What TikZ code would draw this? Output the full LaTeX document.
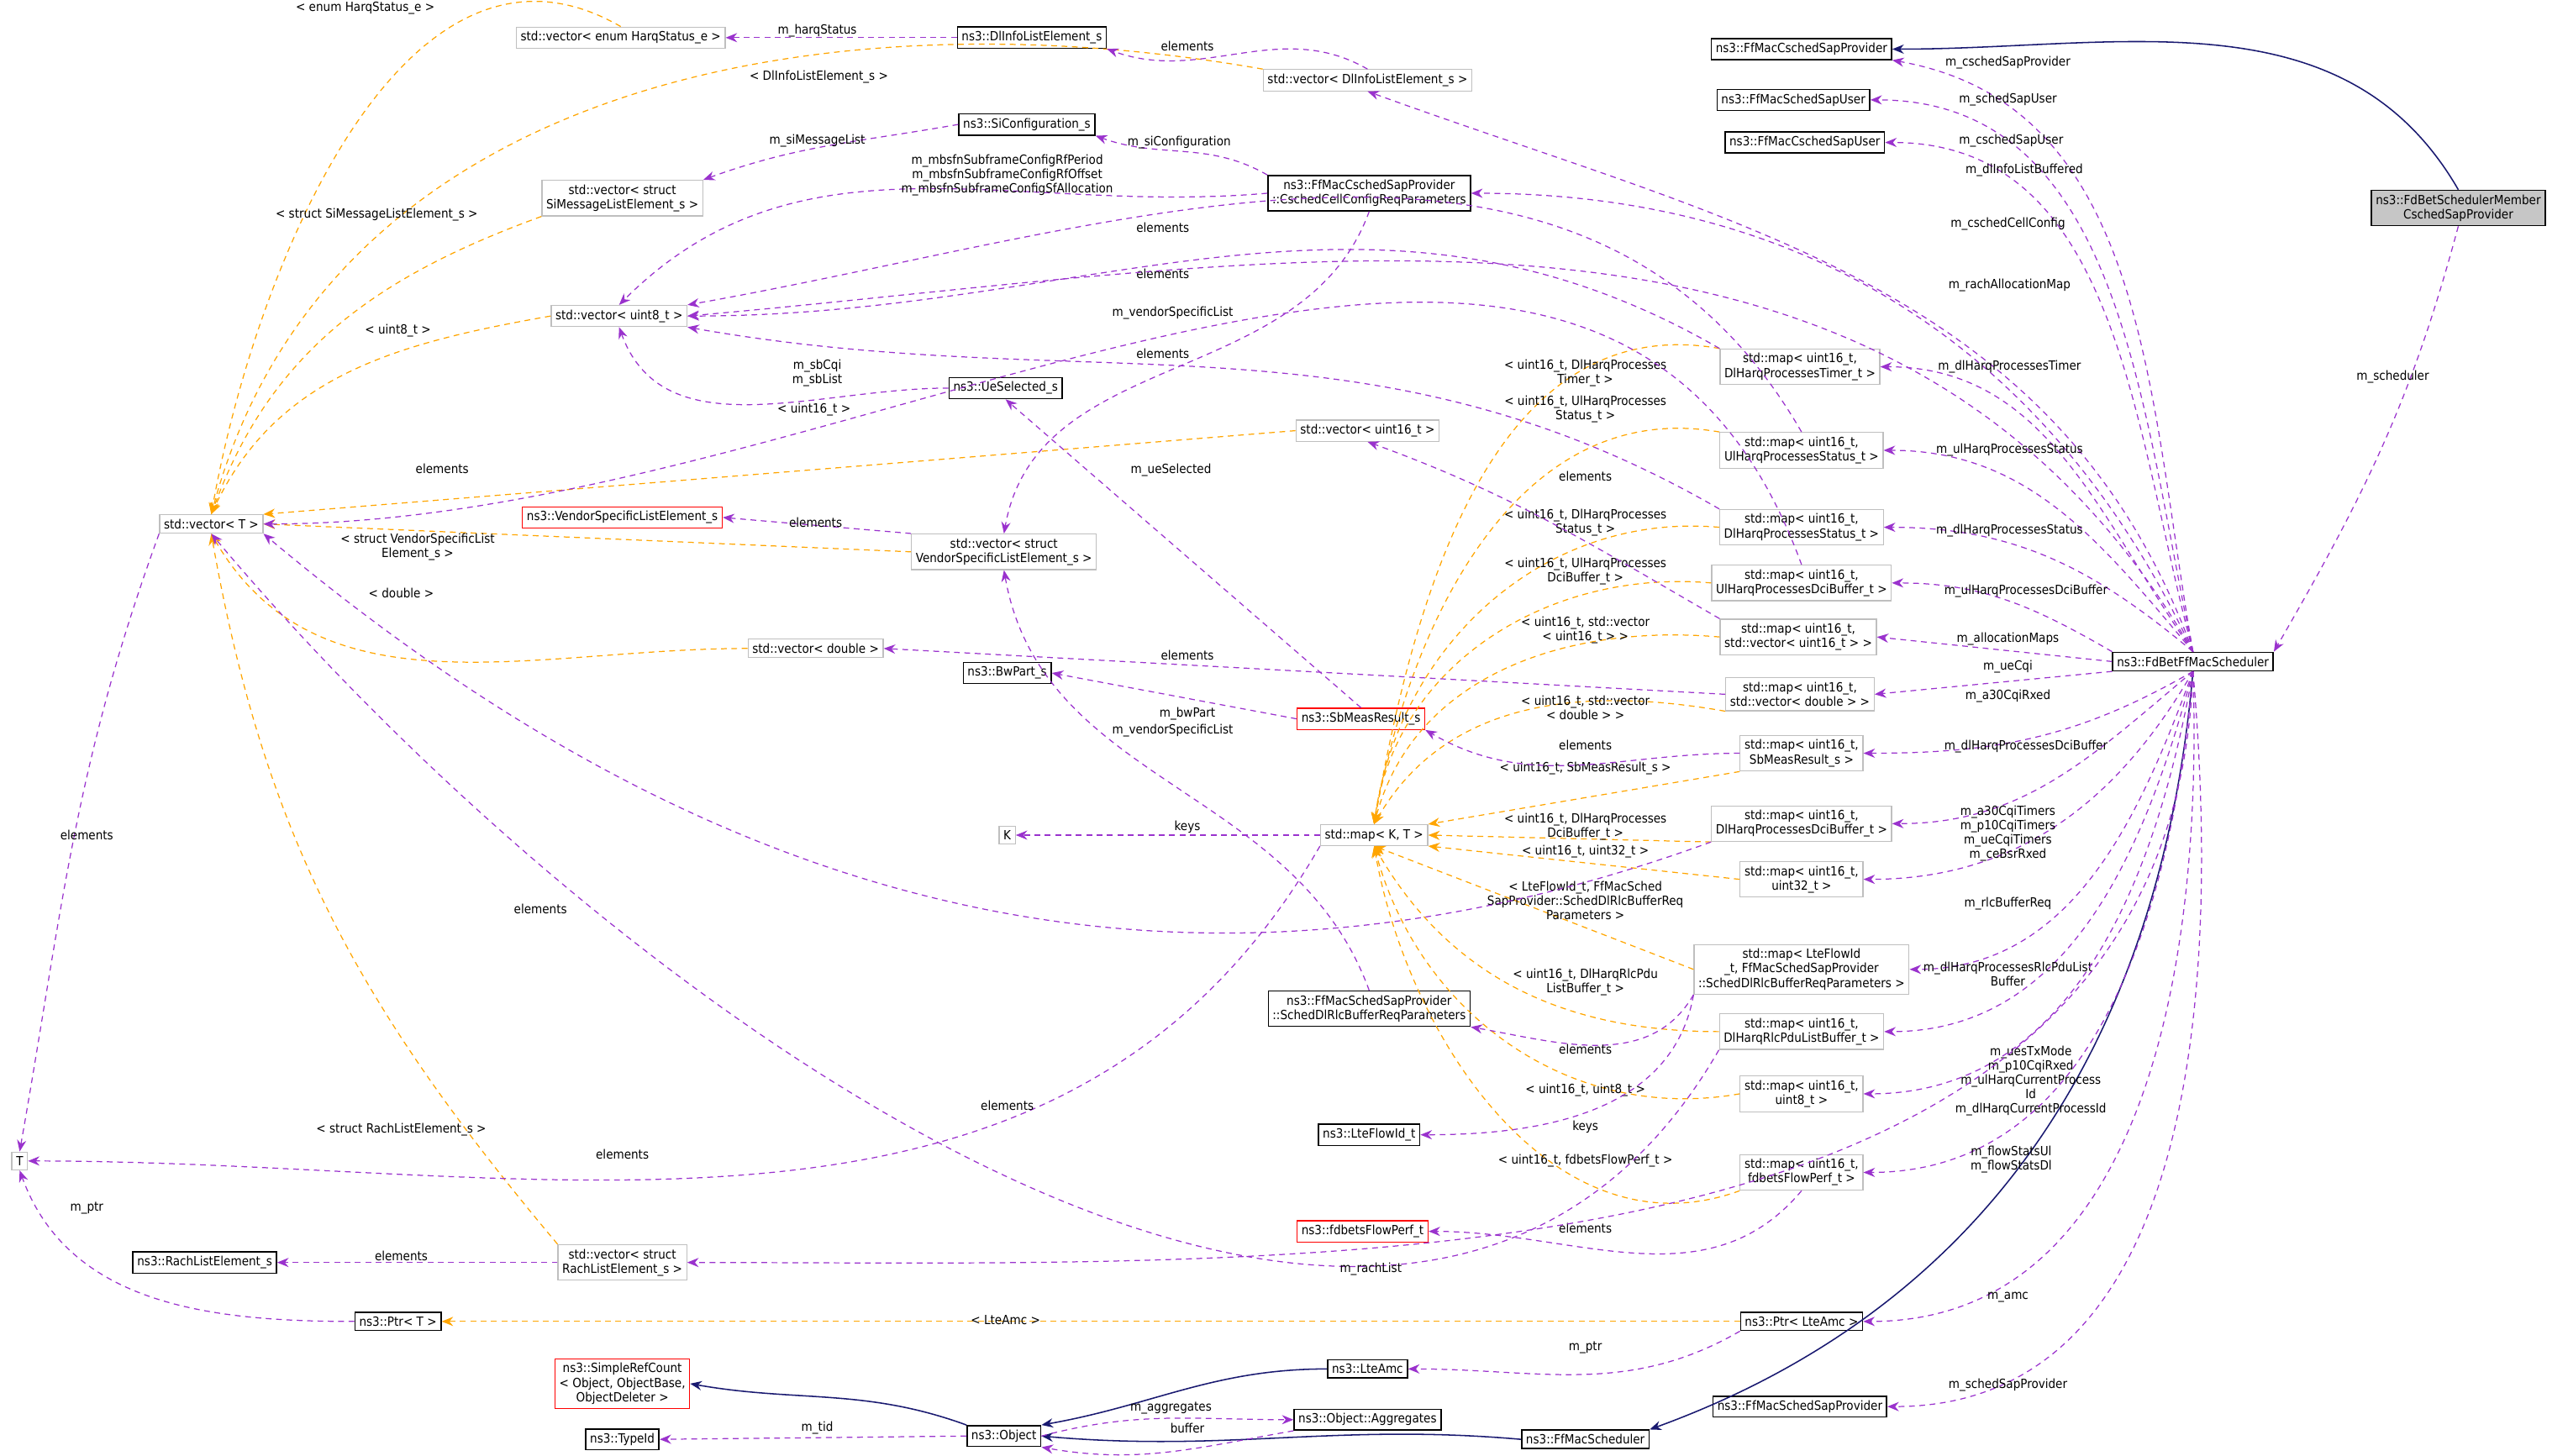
\documentclass[tikz,border=0pt]{standalone}
\usepackage{fontspec}
\setmainfont{DejaVu Sans Condensed}
\usetikzlibrary{arrows.meta}
\definecolor{pur}{HTML}{9A32CD}
\definecolor{org}{HTML}{FFA500}
\definecolor{nav}{HTML}{191970}
\definecolor{gbd}{HTML}{BFBFBF}
\definecolor{rbd}{HTML}{FF0000}
\tikzset{
 bx/.style={draw=gbd,fill=white,line width=0.36pt,align=center,inner sep=1.5pt,font=\fontsize{4.4}{5}\selectfont},
 bk/.style={bx,draw=black,line width=0.45pt},
 rd/.style={bx,draw=rbd},
 gf/.style={bk,fill=gray!45},
 lb/.style={align=center,font=\fontsize{4.4}{5}\selectfont,inner sep=0pt},
 tip/.style={-{Stealth[length=4pt,width=3.2pt]}},
 pe/.style={tip,draw=pur,line width=0.36pt,dash pattern=on 2pt off 1.6pt},
 oe/.style={tip,draw=org,line width=0.36pt,dash pattern=on 2pt off 1.6pt},
 ne/.style={tip,draw=nav,line width=0.45pt}
}
\begin{document}
\begin{tikzpicture}[x=0.02cm,y=-0.02cm]
\useasboundingbox (0,0) rectangle (1568,889);
% nodes
\node[bx] (harq) at (379,23) {std::vector< enum HarqStatus\_e >};
\node[bk] (dlinfo) at (630,23) {ns3::DlInfoListElement\_s};
\node[bk] (cprov) at (1100,30) {ns3::FfMacCschedSapProvider};
\node[bk] (suser) at (1095,61) {ns3::FfMacSchedSapUser};
\node[bk] (cuser) at (1102,87) {ns3::FfMacCschedSapUser};
\node[gf] (member) at (1501,127) {ns3::FdBetSchedulerMember\\CschedSapProvider};
\node[bx] (vdlinfo) at (835,49) {std::vector< DlInfoListElement\_s >};
\node[bk] (sicfg) at (627,76) {ns3::SiConfiguration\_s};
\node[bx] (vsimsg) at (380,121) {std::vector< struct\\SiMessageListElement\_s >};
\node[bk] (ccfg) at (836,118) {ns3::FfMacCschedSapProvider\\::CschedCellConfigReqParameters};
\node[bx] (v8) at (378,193) {std::vector< uint8\_t >};
\node[bk] (uesel) at (614,237) {ns3::UeSelected\_s};
\node[bx] (mtimer) at (1099,224) {std::map< uint16\_t,\\DlHarqProcessesTimer\_t >};
\node[bx] (v16) at (835,263) {std::vector< uint16\_t >};
\node[bx] (mulst) at (1100,275) {std::map< uint16\_t,\\UlHarqProcessesStatus\_t >};
\node[bx] (vt) at (129,320) {std::vector< T >};
\node[rd] (vendor) at (380,316) {ns3::VendorSpecificListElement\_s};
\node[bx] (vvendor) at (613,337) {std::vector< struct\\VendorSpecificListElement\_s >};
\node[bx] (mdlst) at (1100,322) {std::map< uint16\_t,\\DlHarqProcessesStatus\_t >};
\node[bx] (muldci) at (1100,356) {std::map< uint16\_t,\\UlHarqProcessesDciBuffer\_t >};
\node[bx] (mv16) at (1098,389) {std::map< uint16\_t,\\std::vector< uint16\_t > >};
\node[bk] (sch) at (1339,404) {ns3::FdBetFfMacScheduler};
\node[bx] (vdbl) at (498,396) {std::vector< double >};
\node[bx] (mvdbl) at (1099,424) {std::map< uint16\_t,\\std::vector< double > >};
\node[bk] (bw) at (615,411) {ns3::BwPart\_s};
\node[rd] (sb) at (831,439) {ns3::SbMeasResult\_s};
\node[bx] (msb) at (1100,460) {std::map< uint16\_t,\\SbMeasResult\_s >};
\node[bx] (K) at (615,510) {K};
\node[bx] (mkt) at (839,510) {std::map< K, T >};
\node[bx] (mdldci) at (1100,503) {std::map< uint16\_t,\\DlHarqProcessesDciBuffer\_t >};
\node[bx] (m32) at (1100,537) {std::map< uint16\_t,\\uint32\_t >};
\node[bx] (mflow) at (1100,592) {std::map< LteFlowId\\\_t, FfMacSchedSapProvider\\::SchedDlRlcBufferReqParameters >};
\node[bk] (rlcreq) at (836,616) {ns3::FfMacSchedSapProvider\\::SchedDlRlcBufferReqParameters};
\node[bx] (mrlc) at (1100,630) {std::map< uint16\_t,\\DlHarqRlcPduListBuffer\_t >};
\node[bx] (m8) at (1100,668) {std::map< uint16\_t,\\uint8\_t >};
\node[bk] (flowid) at (836,693) {ns3::LteFlowId\_t};
\node[bx] (T) at (12,709) {T};
\node[bx] (mfdb) at (1100,716) {std::map< uint16\_t,\\fdbetsFlowPerf\_t >};
\node[rd] (fdb) at (832,752) {ns3::fdbetsFlowPerf\_t};
\node[bk] (rach) at (125,771) {ns3::RachListElement\_s};
\node[bx] (vrach) at (380,771) {std::vector< struct\\RachListElement\_s >};
\node[bk] (ptrt) at (243,807) {ns3::Ptr< T >};
\node[bk] (ptramc) at (1100,807) {ns3::Ptr< LteAmc >};
\node[rd] (src) at (380,845) {ns3::SimpleRefCount\\< Object, ObjectBase,\\ObjectDeleter >};
\node[bk] (amc) at (835,836) {ns3::LteAmc};
\node[bk] (obj) at (613,877) {ns3::Object};
\node[bk] (agg) at (835,867) {ns3::Object::Aggregates};
\node[bk] (tid) at (380,879) {ns3::TypeId};
\node[bk] (ffs) at (968,879) {ns3::FfMacScheduler};
\node[bk] (sprov) at (1099,859) {ns3::FfMacSchedSapProvider};
% inheritance
\draw[ne] (member.north) to[out=120,in=0] (cprov.east);
\draw[ne] (sch.south) to[out=-95,in=20] (ffs.north east);
\draw[ne] (ffs.west) to[out=175,in=-5] (obj.east);
\draw[ne] (amc.west) to[out=180,in=10] (obj.north east);
\draw[ne] (obj.north west) to[out=160,in=-10] (src.east);
% orange templates
\draw[oe] (harq.north) to[out=150,in=80] (vt.north) node[lb] at (223,5) {< enum HarqStatus\_e >};
\draw[oe] (vdlinfo.north west) to[out=170,in=75] (vt.north) node[lb] at (500,47) {< DlInfoListElement\_s >};
\draw[oe] (vsimsg.south west) to[out=200,in=70] (vt.north) node[lb] at (230,131) {< struct SiMessageListElement\_s >};
\draw[oe] (v8.west) to[out=190,in=65] (vt.north) node[lb] at (243,202) {< uint8\_t >};
\draw[oe] (v16.west) -- (vt.north east) node[lb] at (497,250) {< uint16\_t >};
\draw[oe] (vvendor.west) -- (vt.east) node[lb] at (255,334) {< struct VendorSpecificList\\Element\_s >};
\draw[oe] (vdbl.west) to[out=180,in=-60] (vt.south) node[lb] at (245,362) {< double >};
\draw[oe] (vrach.north west) to[out=130,in=-80] (vt.south) node[lb] at (245,690) {< struct RachListElement\_s >};
\draw[oe] (ptramc.west) -- (ptrt.east) node[lb] at (614,806) {< LteAmc >};
\draw[oe] (mtimer.north west) to[out=170,in=80] (mkt.north) node[lb] at (968,228) {< uint16\_t, DlHarqProcesses\\Timer\_t >};
\draw[oe] (mulst.north west) to[out=170,in=80] (mkt.north) node[lb] at (968,250) {< uint16\_t, UlHarqProcesses\\Status\_t >};
\draw[oe] (mdlst.west) to[out=175,in=82] (mkt.north) node[lb] at (968,319) {< uint16\_t, DlHarqProcesses\\Status\_t >};
\draw[oe] (muldci.west) to[out=175,in=82] (mkt.north) node[lb] at (968,349) {< uint16\_t, UlHarqProcesses\\DciBuffer\_t >};
\draw[oe] (mv16.west) to[out=175,in=75] (mkt.north) node[lb] at (968,385) {< uint16\_t, std::vector\\< uint16\_t > >};
\draw[oe] (mvdbl.south west) to[out=170,in=60] (mkt.north) node[lb] at (968,432) {< uint16\_t, std::vector\\< double > >};
\draw[oe] (msb.south west) -- (mkt.north east) node[lb] at (968,469) {< uint16\_t, SbMeasResult\_s >};
\draw[oe] (mdldci.south west) -- (mkt.east) node[lb] at (968,505) {< uint16\_t, DlHarqProcesses\\DciBuffer\_t >};
\draw[oe] (m32.west) -- (mkt.south east) node[lb] at (968,520) {< uint16\_t, uint32\_t >};
\draw[oe] (mflow.west) -- (mkt.south) node[lb] at (968,550) {< LteFlowId\_t, FfMacSched\\SapProvider::SchedDlRlcBufferReq\\Parameters >};
\draw[oe] (mrlc.west) to[out=180,in=-60] (mkt.south) node[lb] at (968,600) {< uint16\_t, DlHarqRlcPdu\\ListBuffer\_t >};
\draw[oe] (m8.west) to[out=190,in=-75] (mkt.south) node[lb] at (968,666) {< uint16\_t, uint8\_t >};
\draw[oe] (mfdb.south west) to[out=200,in=-80] (mkt.south) node[lb] at (968,709) {< uint16\_t, fdbetsFlowPerf\_t >};
% purple members
\draw[pe] (dlinfo.west) -- (harq.east) node[lb] at (499,19) {m\_harqStatus};
\draw[pe] (vdlinfo.north) to[out=150,in=-20] (dlinfo.south east) node[lb] at (725,28) {elements};
\draw[pe] (sicfg.west) to[out=190,in=20] (vsimsg.north east) node[lb] at (499,86) {m\_siMessageList};
\draw[pe] (ccfg.north west) to[out=150,in=-20] (sicfg.south east) node[lb] at (720,87) {m\_siConfiguration};
\draw[pe] (ccfg.west) to[out=185,in=45] (v8.north) node[lb] at (615,107) {m\_mbsfnSubframeConfigRfPeriod\\m\_mbsfnSubframeConfigRfOffset\\m\_mbsfnSubframeConfigSfAllocation};
\draw[pe] (ccfg.south) to[out=-110,in=80] (vvendor.north) node[lb] at (716,191) {m\_vendorSpecificList};
\draw[pe] (mtimer.north west) to[out=150,in=0] (v8.east) node[lb] at (710,139) {elements};
\draw[pe] (mulst.north) to[out=120,in=10] (v8.north east) node[lb] at (710,167) {elements};
\draw[pe] (mdlst.north west) to[out=150,in=-10] (v8.south east) node[lb] at (710,216) {elements};
\draw[pe] (uesel.west) to[out=180,in=-70] (v8.south) node[lb] at (499,228) {m\_sbCqi\\m\_sbList};
\draw[pe] (mv16.north west) to[out=150,in=-20] (v16.south) node[lb] at (968,291) {elements};
\draw[pe] (muldci.north) to[out=110,in=0] (vt.east) node[lb] at (270,286) {elements};
\draw[pe] (vvendor.north west) -- (vendor.east) node[lb] at (498,319) {elements};
\draw[pe] (mvdbl.west) -- (vdbl.east) node[lb] at (725,400) {elements};
\draw[pe] (sb.west) -- (bw.east) node[lb] at (725,436) {m\_bwPart};
\draw[pe] (sb.north) -- (uesel.south) node[lb] at (715,287) {m\_ueSelected};
\draw[pe] (msb.west) to[out=180,in=-30] (sb.south east) node[lb] at (968,455) {elements};
\draw[pe] (mkt.west) -- (K.east) node[lb] at (725,505) {keys};
\draw[pe] (mkt.south west) to[out=-120,in=0] (T.east) node[lb] at (380,705) {elements};
\draw[pe] (vt.south west) to[out=-110,in=80] (T.north) node[lb] at (53,510) {elements};
\draw[pe] (mdldci.south west) to[out=200,in=-40] (vt.south east) node[lb] at (330,555) {elements};
\draw[pe] (rlcreq.north) to[out=110,in=-80] (vvendor.south) node[lb] at (716,446) {m\_vendorSpecificList};
\draw[pe] (mflow.south west) to[out=-120,in=-10] (rlcreq.south east) node[lb] at (968,641) {elements};
\draw[pe] (mflow.south west) to[out=-100,in=0] (flowid.east) node[lb] at (968,688) {keys};
\draw[pe] (mrlc.south west) to[out=-120,in=-50] (vt.south) node[lb] at (615,675) {elements};
\draw[pe] (mfdb.south) to[out=-130,in=0] (fdb.east) node[lb] at (968,750) {elements};
\draw[pe] (vrach.west) -- (rach.east) node[lb] at (245,767) {elements};
\draw[pe] (ptrt.west) to[out=180,in=-70] (T.south) node[lb] at (53,738) {m\_ptr};
\draw[pe] (ptramc.south west) to[out=-150,in=0] (amc.east) node[lb] at (968,823) {m\_ptr};
\draw[pe] (obj.east) to[out=15,in=180] (agg.west) node[lb] at (715,860) {m\_aggregates};
\draw[pe] (agg.south west) to[out=-170,in=-10] (obj.south east) node[lb] at (725,872) {buffer};
\draw[pe] (obj.west) -- (tid.east) node[lb] at (499,872) {m\_tid};
% scheduler members
\draw[pe] (member.south) to[out=-105,in=60] (sch.north east) node[lb] at (1461,230) {m\_scheduler};
\draw[pe] (sch.north) to[out=100,in=-10] (cprov.south east) node[lb] at (1226,38) {m\_cschedSapProvider};
\draw[pe] (sch.north) to[out=102,in=0] (suser.east) node[lb] at (1226,61) {m\_schedSapUser};
\draw[pe] (sch.north) to[out=105,in=0] (cuser.east) node[lb] at (1228,86) {m\_cschedSapUser};
\draw[pe] (sch.north) to[out=110,in=-20] (vdlinfo.south) node[lb] at (1236,104) {m\_dlInfoListBuffered};
\draw[pe] (sch.north) to[out=115,in=0] (ccfg.east) node[lb] at (1226,137) {m\_cschedCellConfig};
\draw[pe] (sch.north) to[out=120,in=5] (v8.east) node[lb] at (1227,174) {m\_rachAllocationMap};
\draw[pe] (sch.north) to[out=125,in=0] (mtimer.east) node[lb] at (1227,224) {m\_dlHarqProcessesTimer};
\draw[pe] (sch.north) to[out=130,in=0] (mulst.east) node[lb] at (1227,275) {m\_ulHarqProcessesStatus};
\draw[pe] (sch.north) to[out=140,in=0] (mdlst.east) node[lb] at (1227,324) {m\_dlHarqProcessesStatus};
\draw[pe] (sch.north west) to[out=150,in=0] (muldci.east) node[lb] at (1237,361) {m\_ulHarqProcessesDciBuffer};
\draw[pe] (sch.west) -- (mv16.east) node[lb] at (1226,390) {m\_allocationMaps};
\draw[pe] (sch.south west) -- (mvdbl.east) node[lb] at (1226,407) {m\_ueCqi};
\draw[pe] (sch.south) to[out=-150,in=0] (msb.east) node[lb] at (1226,425) {m\_a30CqiRxed};
\draw[pe] (sch.south) to[out=-140,in=0] (mdldci.east) node[lb] at (1237,456) {m\_dlHarqProcessesDciBuffer};
\draw[pe] (sch.south) to[out=-120,in=0] (m32.east) node[lb] at (1226,509) {m\_a30CqiTimers\\m\_p10CqiTimers\\m\_ueCqiTimers\\m\_ceBsrRxed};
\draw[pe] (sch.south) to[out=-110,in=0] (mflow.east) node[lb] at (1226,552) {m\_rlcBufferReq};
\draw[pe] (sch.south) to[out=-105,in=0] (mrlc.east) node[lb] at (1226,595) {m\_dlHarqProcessesRlcPduList\\Buffer};
\draw[pe] (sch.south) to[out=-100,in=0] (m8.east) node[lb] at (1240,660) {m\_uesTxMode\\m\_p10CqiRxed\\m\_ulHarqCurrentProcess\\Id\\m\_dlHarqCurrentProcessId};
\draw[pe] (sch.south) to[out=-95,in=0] (mfdb.east) node[lb] at (1228,708) {m\_flowStatsUl\\m\_flowStatsDl};
\draw[pe] (sch.south) to[out=-92,in=0] (vrach.east) node[lb] at (837,775) {m\_rachList};
\draw[pe] (sch.south) to[out=-88,in=0] (ptramc.east) node[lb] at (1226,792) {m\_amc};
\draw[pe] (sch.south) to[out=-85,in=0] (sprov.east) node[lb] at (1226,846) {m\_schedSapProvider};
\end{tikzpicture}
\end{document}
